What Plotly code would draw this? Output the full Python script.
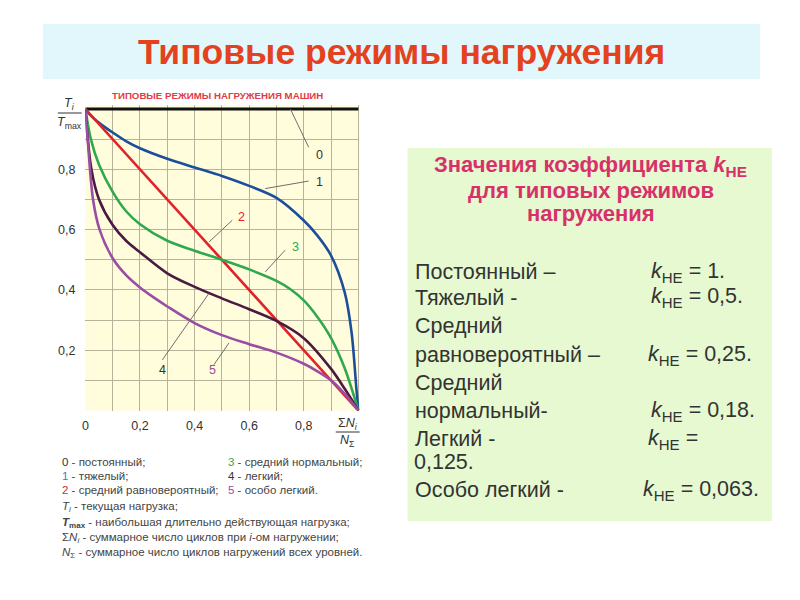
import plotly.graph_objects as go

# ---------------- data ----------------
x0 = [0.0, 1.0]
y0 = [1.0, 1.0]

x1 = [0.0, 0.02, 0.05, 0.1, 0.15, 0.2, 0.3, 0.4, 0.5, 0.6, 0.7, 0.8, 0.85, 0.9, 0.95, 0.975, 0.993, 1.0]
y1 = [1.0, 0.978, 0.954, 0.922, 0.893, 0.87, 0.835, 0.806, 0.778, 0.745, 0.705, 0.63, 0.58, 0.514, 0.392, 0.26, 0.07, 0.0]

x2 = [0.0, 1.0]
y2 = [1.0, 0.0]

x3 = [0.0, 0.02, 0.05, 0.1, 0.15, 0.2, 0.3, 0.4, 0.5, 0.6, 0.7, 0.75, 0.8, 0.85, 0.9, 0.95, 1.0]
y3 = [1.0, 0.9, 0.815, 0.725, 0.66, 0.618, 0.563, 0.53, 0.5, 0.468, 0.43, 0.403, 0.365, 0.31, 0.24, 0.14, 0.0]

x4 = [0.0, 0.022, 0.05, 0.1, 0.15, 0.2, 0.3, 0.4, 0.5, 0.6, 0.7, 0.8, 0.9, 0.95, 1.0]
y4 = [1.0, 0.8, 0.7, 0.615, 0.562, 0.525, 0.455, 0.41, 0.372, 0.336, 0.297, 0.24, 0.138, 0.072, 0.0]

x5 = [0.0, 0.01, 0.028, 0.052, 0.1, 0.15, 0.2, 0.25, 0.3, 0.4, 0.5, 0.6, 0.7, 0.8, 0.85, 0.9, 0.95, 1.0]
y5 = [1.0, 0.88, 0.7, 0.6, 0.505, 0.448, 0.408, 0.375, 0.345, 0.29, 0.25, 0.22, 0.192, 0.155, 0.13, 0.1, 0.055, 0.0]

curve_names = ["0", "1", "2", "3", "4", "5"]
curve_colors = ["#111111", "#1C4E9C", "#E0232B", "#2FA84F", "#4B1A42", "#9B4CA3"]

# label leader lines: (x_start, y_start, x_end, y_end), label position
leader_lines = [
    (0.751, 1.0, 0.818, 0.873),
    (0.659, 0.736, 0.818, 0.761),
    (0.453, 0.559, 0.538, 0.631),
    (0.659, 0.460, 0.732, 0.532),
    (0.453, 0.389, 0.282, 0.168),
    (0.526, 0.224, 0.471, 0.152),
]
label_pos = [(0.836, 0.849), (0.839, 0.758), (0.552, 0.642), (0.751, 0.543), (0.264, 0.135), (0.446, 0.135)]
label_colors = ["#333333", "#333333", "#E0232B", "#2FA84F", "#333333", "#9B4CA3"]

x_ticks = [0, 0.1, 0.2, 0.3, 0.4, 0.5, 0.6, 0.7, 0.8, 0.9, 1.0]
x_ticktext = ["0", "", "0,2", "", "0,4", "", "0,6", "", "0,8", "", ""]
y_ticks = [0, 0.1, 0.2, 0.3, 0.4, 0.5, 0.6, 0.7, 0.8, 0.9, 1.0]
y_ticktext = ["", "", "0,2", "", "0,4", "", "0,6", "", "0,8", "", ""]

k_modes = ["Постоянный –", "Тяжелый -", "Средний", "равновероятный –", "Средний", "нормальный-", "Легкий -", "Особо легкий -"]
k_values = ["1.", "0,5.", "0,25.", "0,18.", "0,125.", "0,063."]

# ---------------- figure ----------------
W, H = 800, 600
def px(x):
    return x / W
def py(y):
    return 1 - y / H

fig = go.Figure()
xs = [x0, x1, x2, x3, x4, x5]
ys = [y0, y1, y2, y3, y4, y5]
for i in range(6):
    fig.add_trace(go.Scatter(
        x=xs[i], y=ys[i], mode="lines", name=curve_names[i],
        line=dict(color=curve_colors[i], width=3.2 if i == 0 else 2.6, shape="spline", smoothing=0.9),
        showlegend=False, hoverinfo="skip"))

# plot geometry (pixels)
L, R, B, T1 = 82.7, 356.7, 410.5, 109.0
ymax = 1.012
xmax = 1.004
top_px = B - (B - T1) * ymax
right_px = L + (R - L) * xmax

fig.update_layout(
    width=W, height=H, margin=dict(l=0, r=0, t=0, b=0),
    paper_bgcolor="white", plot_bgcolor="#FFFDDB",
    font=dict(family="Liberation Sans, Arial, sans-serif", color="#333333"),
    xaxis=dict(domain=[px(L), px(right_px)], range=[0, xmax], tickvals=x_ticks, ticktext=x_ticktext,
               showgrid=True, gridcolor="#B9B29A", gridwidth=1, zeroline=False, showline=False,
               ticks="", tickfont=dict(size=12.5, color="#333"), ticklabelstandoff=6, fixedrange=True),
    yaxis=dict(domain=[py(B), py(top_px)], range=[0, ymax], tickvals=y_ticks, ticktext=y_ticktext,
               showgrid=True, gridcolor="#B9B29A", gridwidth=1, zeroline=False, showline=False,
               ticks="", tickfont=dict(size=12.5, color="#333"), ticklabelstandoff=9, fixedrange=True),
)

shapes = []
# title banner
shapes.append(dict(type="rect", xref="paper", yref="paper", x0=px(40), x1=px(760), y0=py(79), y1=py(24),
                   fillcolor="#E2F7FB", line=dict(width=0), layer="below"))
# green box
shapes.append(dict(type="rect", xref="paper", yref="paper", x0=px(406), x1=px(772), y0=py(521), y1=py(148),
                   fillcolor="#E6F9D0", line=dict(width=0), layer="below"))
# leader lines
for (a, b, c, d) in leader_lines:
    shapes.append(dict(type="line", xref="x", yref="y", x0=a, y0=b, x1=c, y1=d,
                       line=dict(color="#6E6E6E", width=1)))
# fraction bars
shapes.append(dict(type="line", xref="paper", yref="paper", x0=px(55), x1=px(79), y0=py(113), y1=py(113),
                   line=dict(color="#333", width=1)))
shapes.append(dict(type="line", xref="paper", yref="paper", x0=px(334), x1=px(358), y0=py(432), y1=py(432),
                   line=dict(color="#333", width=1)))
fig.update_layout(shapes=shapes)

ann = []
def A(text, x, y, size=12, color="#333", xanchor="left", yanchor="middle", bold=False):
    if bold:
        text = "<b>" + text + "</b>"
    if xanchor == "left":
        x = x - 3
    ann.append(dict(text=text, x=px(x), y=py(y), xref="paper", yref="paper", showarrow=False,
                    xanchor=xanchor, yanchor=yanchor, font=dict(size=size, color=color)))

# main title
A("Типовые режимы нагружения", 400, 52, size=35.5, color="#E4421E", xanchor="center", bold=True)
# chart inner title
A("ТИПОВЫЕ РЕЖИМЫ НАГРУЖЕНИЯ МАШИН", 215, 95, size=9.7, color="#E23B45", xanchor="center", bold=True)

# axis labels
A("<i>T<sub>i</sub></i>", 67, 104, size=12.5, xanchor="center")
A("<i>T</i><sub>max</sub>", 67, 123, size=12.5, xanchor="center")
A("Σ<i>N<sub>i</sub></i>", 346, 424, size=12.5, xanchor="center")
A("<i>N</i><sub>Σ</sub>", 346, 441, size=12.5, xanchor="center")

# curve labels
for i in range(6):
    ann.append(dict(text=curve_names[i], x=label_pos[i][0], y=label_pos[i][1], xref="x", yref="y",
                    showarrow=False, xanchor="left", yanchor="middle",
                    font=dict(size=12.5, color=label_colors[i])))

# legend below chart
leg_left = [("0", "#333333", " - постоянный;"), ("1", "#3A7FC0", " - тяжелый;"), ("2", "#E0232B", " - средний равновероятный;")]
leg_right = [("3", "#2FA84F", " - средний нормальный;"), ("4", "#333333", " - легкий;"), ("5", "#9B4CA3", " - особо легкий.")]
lf = 11.5
for j, yy in enumerate([462, 476, 490]):
    n, c, t = leg_left[j]
    A(f"<span style='color:{c}'>{n}</span>{t}", 60, yy, size=lf, color="#444")
    n, c, t = leg_right[j]
    A(f"<span style='color:{c}'>{n}</span>{t}", 227, yy, size=lf, color="#444")

A("<i>T<sub>i</sub></i> - текущая нагрузка;", 60, 507, size=lf, color="#444")
A("<b><i>T</i><sub>max</sub></b> - наибольшая длительно действующая нагрузка;", 60, 523, size=lf, color="#444")
A("Σ<i>N<sub>i</sub></i> - суммарное число циклов при <i>i</i>-ом нагружении;", 60, 538, size=lf, color="#444")
A("<i>N</i><sub>Σ</sub> - суммарное число циклов нагружений всех уровней.", 60, 553, size=lf, color="#444")

# green box heading
hf = 22
A("Значения коэффициента <i>k</i><sub>НЕ</sub>", 590, 166, size=hf, color="#D8306A", xanchor="center", bold=True)
A("для типовых режимов", 590, 190, size=hf, color="#D8306A", xanchor="center", bold=True)
A("нагружения", 590, 213, size=hf, color="#D8306A", xanchor="center", bold=True)

# green box body
bf = 21.5
k = "<i>k</i><sub>НЕ</sub> = "
A(k_modes[0], 415, 272, size=bf)
A(k + k_values[0], 651, 272, size=bf)
A(k_modes[1], 415, 298, size=bf)
A(k + k_values[1], 651, 298, size=bf)
A(k_modes[2], 415, 326, size=bf)
A(k_modes[3], 415, 355, size=bf)
A(k + k_values[2], 648, 355, size=bf)
A(k_modes[4], 415, 383, size=bf)
A(k_modes[5], 415, 411, size=bf)
A(k + k_values[3], 651, 411, size=bf)
A(k_modes[6], 415, 439, size=bf)
A("<i>k</i><sub>НЕ</sub> =", 648, 439, size=bf)
A(k_values[4], 414, 462, size=bf)
A(k_modes[7], 415, 490, size=bf)
A(k + k_values[5], 643, 490, size=bf)

fig.update_layout(annotations=ann)
fig.write_html("out.html")
